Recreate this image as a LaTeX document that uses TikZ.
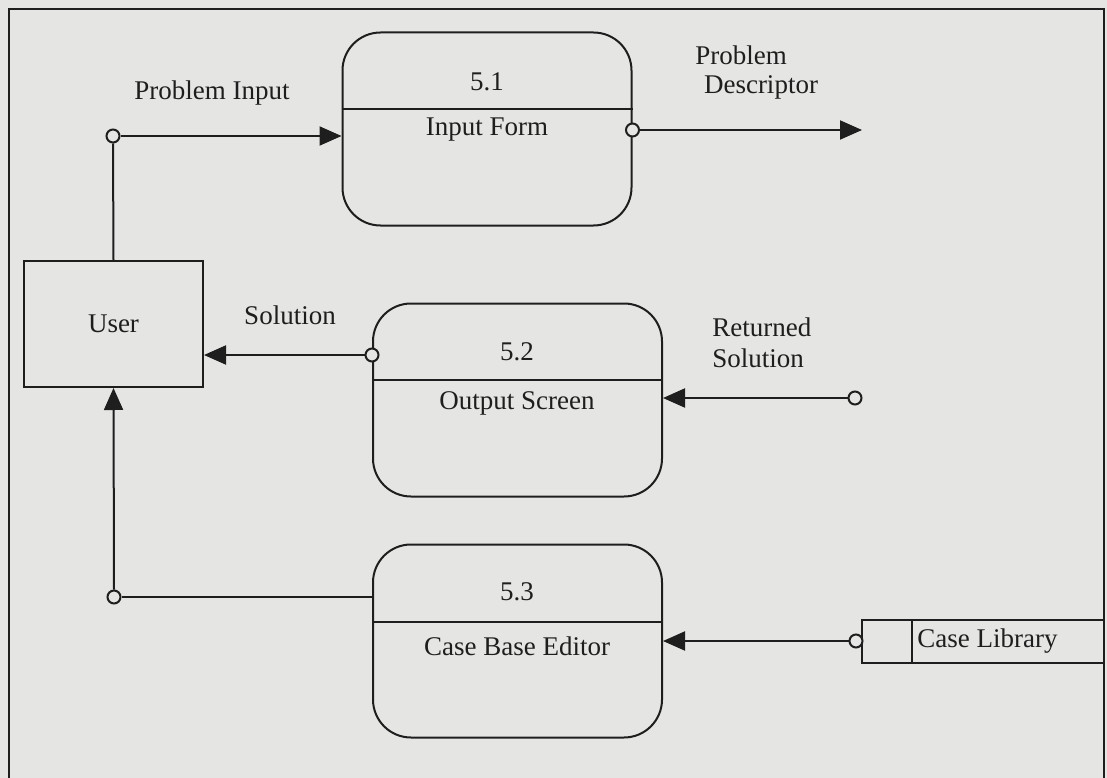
\documentclass[tikz,border=0pt]{standalone}
\usepackage{fontspec}
\setmainfont{Liberation Serif}
\usetikzlibrary{arrows.meta}
\definecolor{paper}{RGB}{229,230,228}
\definecolor{ink}{RGB}{30,30,30}
\begin{document}
\begin{tikzpicture}[x=1pt,y=-1pt,
  line width=2pt, draw=ink,
  every node/.style={font=\fontsize{27}{31}\selectfont, text=ink},
  proc/.style={draw=ink, rectangle, rounded corners=38pt, line width=2pt,
    minimum width=289pt, minimum height=193pt, inner sep=0pt},
  entity/.style={draw=ink, rectangle, line width=2pt,
    minimum width=179pt, minimum height=126pt},
  port/.style={draw=ink, circle, line width=2pt, minimum size=13pt, inner sep=0pt, fill=paper},
  flow/.style={draw=ink, line width=2pt, -{Triangle[length=22pt,width=19pt]}},
  plain/.style={draw=ink, line width=2pt}]

% page and frame
\useasboundingbox (0,0) rectangle (1107,778);
\fill[paper] (0,0) rectangle (1107,778);
\draw[line width=2.2pt] (9,790) -- (9,9) -- (1104,9) -- (1104,790);

% external entity
\node[entity] (user) at (113.5,324) {User};

% processes
\node[proc] (p1) at (487,129) {};
\draw (p1.west |- 0,109) -- (p1.east |- 0,109);
\node (p1num) at (487,82) {5.1};
\node (p1name) at (487,130) {Input Form};

\node[proc] (p2) at (517.5,400) {};
\draw (p2.west |- 0,380) -- (p2.east |- 0,380);
\node (p2num) at (517,352) {5.2};
\node (p2name) at (517,403) {Output Screen};

\node[proc] (p3) at (517.5,641) {};
\draw (p3.west |- 0,622) -- (p3.east |- 0,622);
\node (p3num) at (517,592) {5.3};
\node (p3name) at (517,646) {Case Base Editor};

% data store, open towards the frame
\coordinate (storeTL) at (862,620);
\coordinate (storeBL) at (862,663);
\draw (1104,620) -- (storeTL) -- (storeBL) -- (1104,663);
\draw (912,620) -- (912,663);
\node[anchor=west] (store) at (913,641) {Case Library};

% Problem Input
\node[port] (c1) at (113,136) {};
\draw[plain] (user.north) -- (c1.south);
\draw[flow] (c1.east) -- (p1.west |- c1);
\node (lpi) at (212,93) {Problem Input};

% Problem Descriptor
\node[port] (c2) at (p1.east |- 0,130) {};
\coordinate (pdEnd) at (862,130);
\draw[flow] (c2.east) -- (pdEnd);
\node (lpd1) at (741,55) {Problem};
\node (lpd2) at (761,87) {Descriptor};

% Solution
\node[port] (c3) at (p2.west |- 0,355) {};
\draw[flow] (c3.west) -- (user.east |- c3);
\node (lsol) at (290,315) {Solution};

% Returned Solution
\node[align=left, anchor=west] (lrs) at (708,343) {Returned\\Solution};
\node[port] (c4) at (855,398) {};
\draw[flow] (c4.west) -- (p2.east |- c4);

% Case Base Editor back to User
\node[port] (c5) at (114,597) {};
\draw[plain] (p3.west |- c5) -- (c5.east);
\draw[flow] (c5.north) -- (user.south);

% Case Library
\node[port] (c6) at (856,641) {};
\draw[flow] (c6.west) -- (p3.east |- c6);
\end{tikzpicture}
\end{document}
